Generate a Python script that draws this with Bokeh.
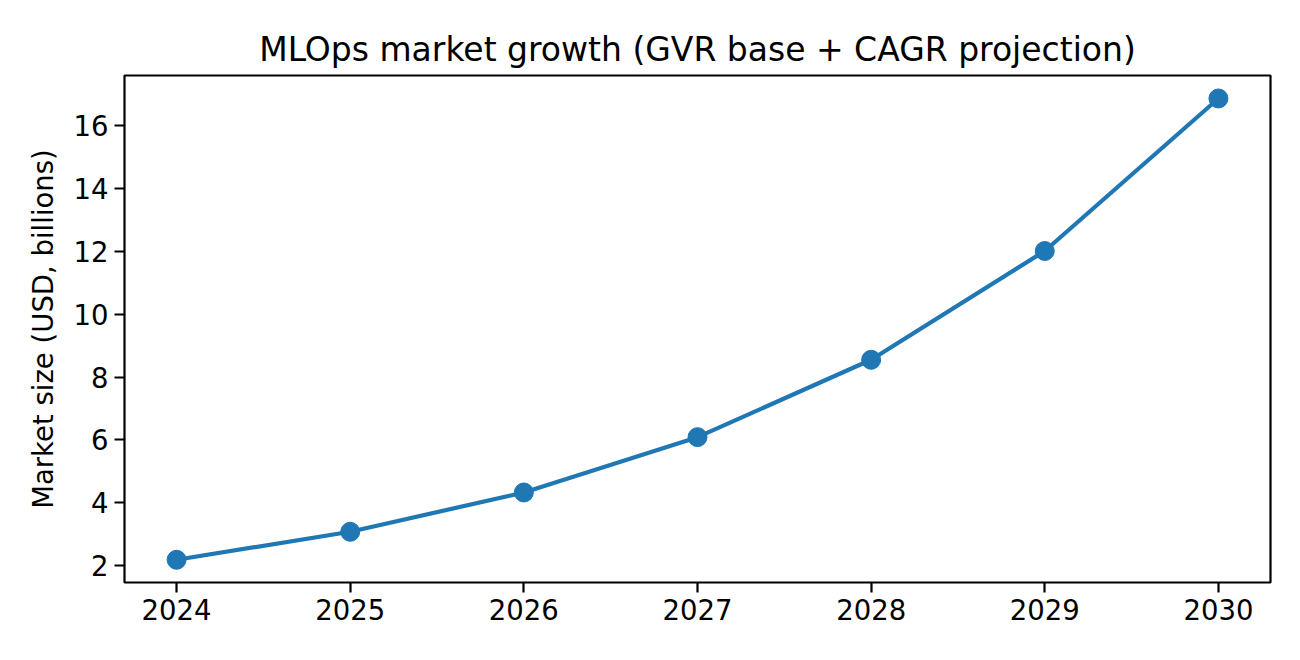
from bokeh.plotting import figure
from bokeh.models import FixedTicker, Range1d
from bokeh.embed import file_html
from bokeh.resources import INLINE

years = [2024, 2025, 2026, 2027, 2028, 2029, 2030]
market_size = [2.19, 3.08, 4.33, 6.09, 8.55, 12.01, 16.86]
x_ticks = [2024, 2025, 2026, 2027, 2028, 2029, 2030]
y_ticks = [2, 4, 6, 8, 10, 12, 14, 16]

FONT = "DejaVu Sans"
BLUE = "#1f77b4"

p = figure(width=1284, height=644, output_backend="svg", toolbar_location=None,
           x_range=Range1d(2023.7, 2030.3), y_range=Range1d(1.467, 17.59),
           title="MLOps market growth (GVR base + CAGR projection)")
p.min_border_left = 124
p.min_border_right = 14
p.min_border_top = 75
p.min_border_bottom = 62

p.title.align = "center"
p.title.text_font = FONT
p.title.text_font_size = "33px"
p.title.text_font_style = "normal"
p.title.text_color = "black"
p.title.standoff = 14

p.xgrid.visible = False
p.ygrid.visible = False
p.outline_line_color = "black"
p.outline_line_width = 2.2
p.outline_line_alpha = 1.0

for ax in (p.xaxis, p.yaxis):
    ax.axis_line_color = None
    ax.major_tick_line_color = "black"
    ax.major_tick_line_width = 2.2
    ax.major_tick_out = 10
    ax.major_tick_in = 0
    ax.minor_tick_line_color = None
    ax.major_label_text_font = FONT
    ax.major_label_text_font_size = "27.5px"
    ax.major_label_text_color = "black"
    ax.major_label_standoff = 6

p.xaxis.ticker = FixedTicker(ticks=x_ticks)
p.yaxis.ticker = FixedTicker(ticks=y_ticks)
p.yaxis.axis_label = "Market size (USD, billions)"
p.yaxis.axis_label_text_font = FONT
p.yaxis.axis_label_text_font_size = "27.5px"
p.yaxis.axis_label_text_font_style = "normal"
p.yaxis.axis_label_text_color = "black"
p.yaxis.axis_label_standoff = 12

p.line(years, market_size, line_color=BLUE, line_width=4.2)
p.scatter(years, market_size, size=19, fill_color=BLUE, line_color=BLUE)

open("out.html", "w").write(file_html(p, INLINE))
